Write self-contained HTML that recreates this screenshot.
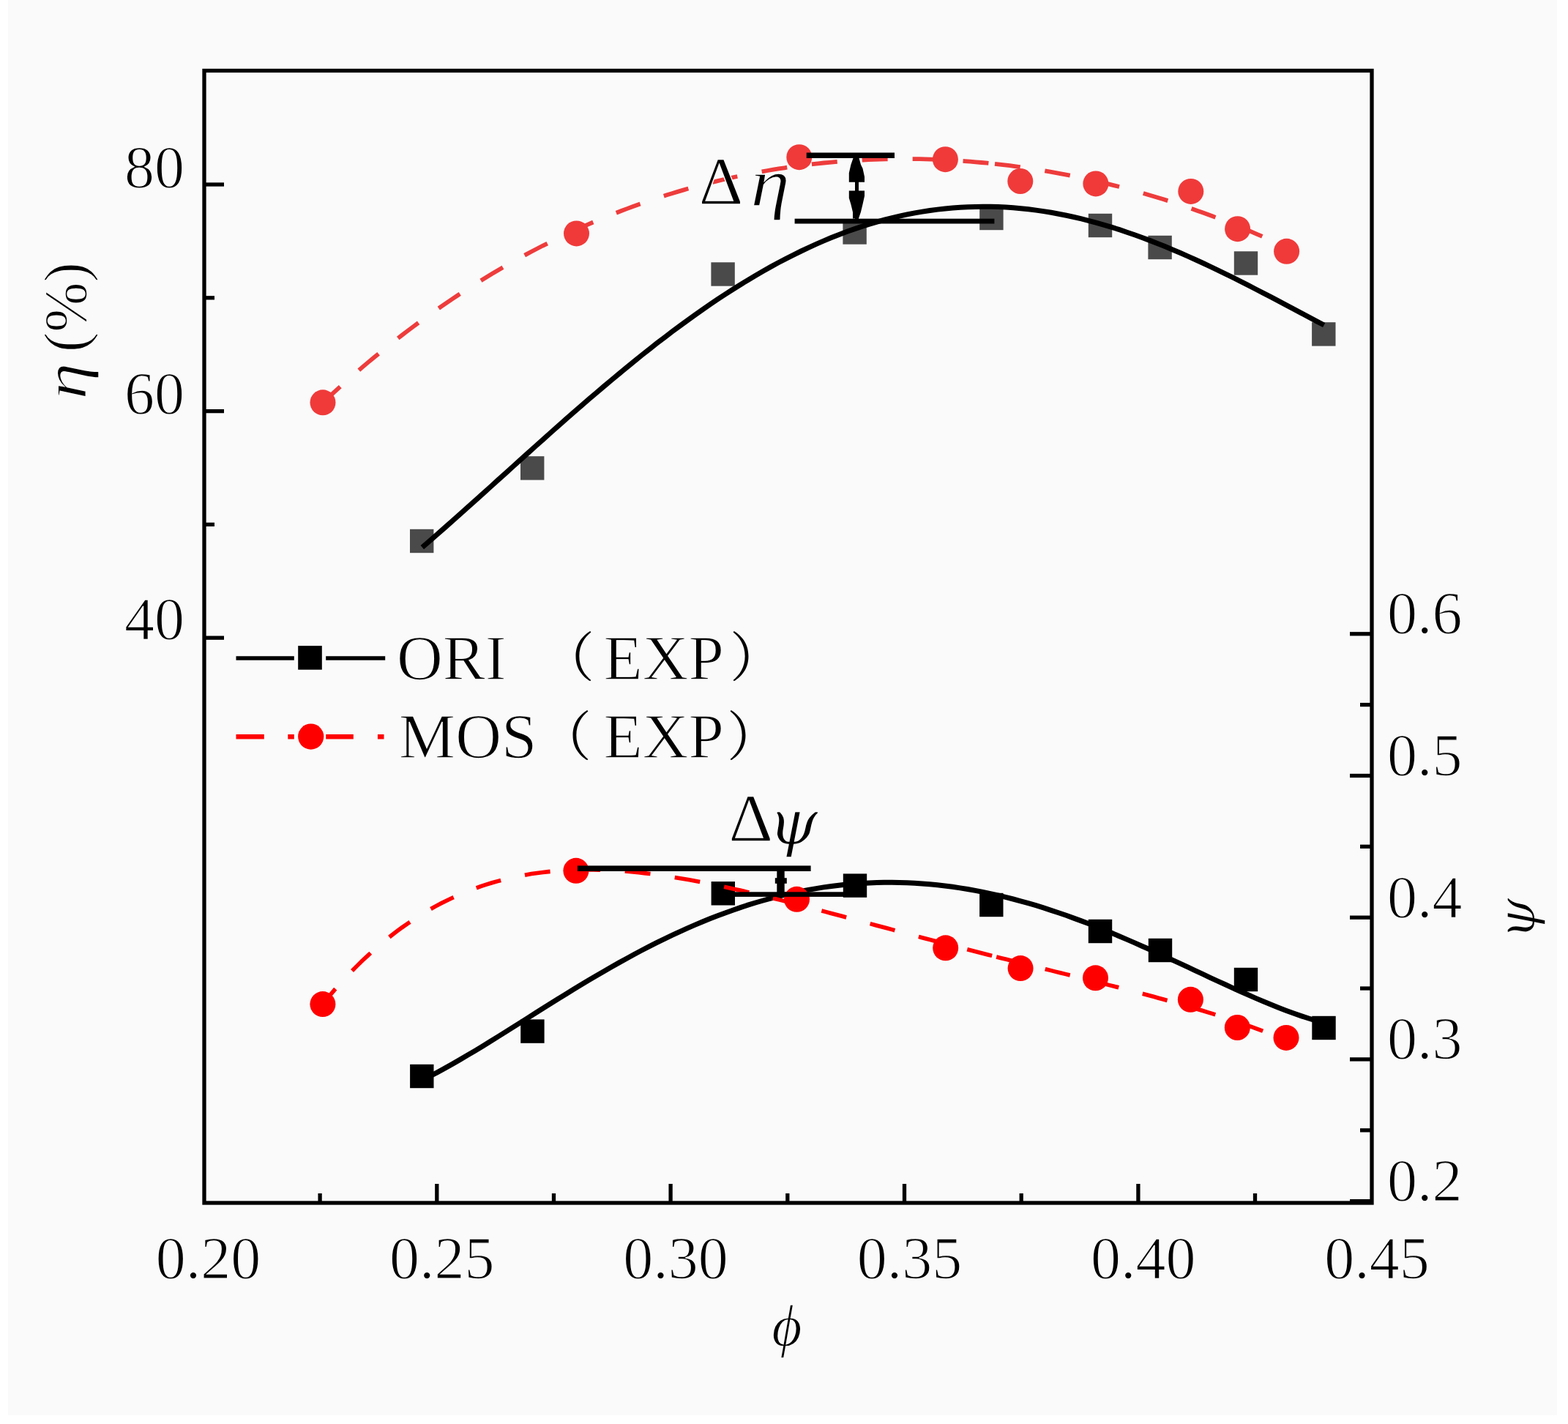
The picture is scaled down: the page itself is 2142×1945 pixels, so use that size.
<!DOCTYPE html>
<html><head><meta charset="utf-8"><style>
html,body{margin:0;padding:0;background:#fff;}
body{width:2142px;height:1945px;overflow:hidden;}
svg{display:block;}
text{font-family:"Liberation Serif","Noto Serif CJK SC",serif;fill:#000;stroke:#fafafa;stroke-width:1.4px;}
.cjk text{stroke:none;}
</style></head><body>
<svg width="2142" height="1945" viewBox="0 0 2142 1945">
<rect x="0" y="0" width="2142" height="1945" fill="#fff"/>
<rect x="11" y="0" width="2116" height="1933" fill="#fafafa"/>
<!-- curves -->
<rect x="560.0" y="722.8" width="32.4" height="32.4" fill="#4a4a4a"/>
<rect x="711.0" y="623.2" width="32.4" height="32.4" fill="#4a4a4a"/>
<rect x="971.4" y="358.3" width="32.4" height="32.4" fill="#4a4a4a"/>
<rect x="1151.4" y="301.3" width="32.4" height="32.4" fill="#4a4a4a"/>
<rect x="1338.2" y="281.8" width="32.4" height="32.4" fill="#4a4a4a"/>
<rect x="1486.8" y="291.8" width="32.4" height="32.4" fill="#4a4a4a"/>
<rect x="1568.4" y="321.8" width="32.4" height="32.4" fill="#4a4a4a"/>
<rect x="1685.8" y="343.3" width="32.4" height="32.4" fill="#4a4a4a"/>
<rect x="1792.1" y="440.2" width="32.4" height="32.4" fill="#4a4a4a"/>
<polyline points="576.8,747.6 587.2,738.6 597.5,729.6 607.9,720.5 618.2,711.3 628.6,702.1 638.9,692.9 649.3,683.6 659.6,674.3 670.0,665.0 680.3,655.6 690.7,646.3 701.0,637.0 711.4,627.6 721.7,618.3 732.1,609.0 742.4,599.8 752.8,590.5 763.1,581.4 773.5,572.2 783.8,563.2 794.2,554.1 804.5,545.2 814.9,536.3 825.3,527.5 835.6,518.8 846.0,510.2 856.3,501.7 866.7,493.3 877.0,484.9 887.4,476.7 897.7,468.6 908.1,460.7 918.4,452.8 928.8,445.1 939.1,437.6 949.5,430.1 959.8,422.8 970.2,415.7 980.5,408.7 990.9,401.9 1001.2,395.2 1011.6,388.7 1021.9,382.4 1032.3,376.2 1042.6,370.2 1053.0,364.4 1063.3,358.8 1073.7,353.3 1084.1,348.1 1094.4,343.0 1104.8,338.1 1115.1,333.4 1125.5,328.9 1135.8,324.6 1146.2,320.5 1156.5,316.6 1166.9,312.9 1177.2,309.4 1187.6,306.2 1197.9,303.1 1208.3,300.2 1218.6,297.6 1229.0,295.1 1239.3,292.9 1249.7,290.9 1260.0,289.1 1270.4,287.5 1280.7,286.1 1291.1,284.9 1301.4,284.0 1311.8,283.2 1322.2,282.7 1332.5,282.4 1342.9,282.2 1353.2,282.3 1363.6,282.6 1373.9,283.1 1384.3,283.8 1394.6,284.7 1405.0,285.8 1415.3,287.1 1425.7,288.6 1436.0,290.3 1446.4,292.2 1456.7,294.3 1467.1,296.5 1477.4,298.9 1487.8,301.6 1498.1,304.3 1508.5,307.3 1518.8,310.4 1529.2,313.7 1539.5,317.2 1549.9,320.8 1560.2,324.5 1570.6,328.4 1581.0,332.4 1591.3,336.6 1601.7,340.9 1612.0,345.3 1622.4,349.9 1632.7,354.5 1643.1,359.3 1653.4,364.1 1663.8,369.1 1674.1,374.1 1684.5,379.2 1694.8,384.4 1705.2,389.7 1715.5,395.0 1725.9,400.3 1736.2,405.7 1746.6,411.2 1756.9,416.6 1767.3,422.1 1777.6,427.6 1788.0,433.1 1798.3,438.6 1808.7,444.0" fill="none" stroke="#000" stroke-width="7"/>
<polyline points="576.5,1475.4 586.9,1470.2 597.2,1464.8 607.6,1459.1 617.9,1453.4 628.3,1447.4 638.6,1441.3 649.0,1435.2 659.3,1428.9 669.7,1422.5 680.0,1416.1 690.4,1409.6 700.7,1403.1 711.1,1396.6 721.4,1390.1 731.8,1383.5 742.1,1377.0 752.5,1370.5 762.9,1364.1 773.2,1357.7 783.6,1351.3 793.9,1345.0 804.3,1338.8 814.6,1332.7 825.0,1326.7 835.3,1320.7 845.7,1314.9 856.0,1309.2 866.4,1303.5 876.7,1298.0 887.1,1292.7 897.4,1287.4 907.8,1282.3 918.1,1277.4 928.5,1272.6 938.9,1267.9 949.2,1263.4 959.6,1259.0 969.9,1254.8 980.3,1250.8 990.6,1246.9 1001.0,1243.2 1011.3,1239.6 1021.7,1236.2 1032.0,1233.0 1042.4,1230.0 1052.7,1227.1 1063.1,1224.4 1073.4,1221.9 1083.8,1219.5 1094.1,1217.4 1104.5,1215.4 1114.9,1213.6 1125.2,1211.9 1135.6,1210.5 1145.9,1209.2 1156.3,1208.1 1166.6,1207.2 1177.0,1206.5 1187.3,1205.9 1197.7,1205.5 1208.0,1205.3 1218.4,1205.3 1228.7,1205.4 1239.1,1205.8 1249.4,1206.3 1259.8,1206.9 1270.1,1207.8 1280.5,1208.8 1290.9,1210.0 1301.2,1211.3 1311.6,1212.9 1321.9,1214.5 1332.3,1216.4 1342.6,1218.4 1353.0,1220.6 1363.3,1222.9 1373.7,1225.4 1384.0,1228.0 1394.4,1230.8 1404.7,1233.7 1415.1,1236.7 1425.4,1239.9 1435.8,1243.3 1446.1,1246.7 1456.5,1250.3 1466.9,1254.1 1477.2,1257.9 1487.6,1261.8 1497.9,1265.9 1508.3,1270.1 1518.6,1274.3 1529.0,1278.7 1539.3,1283.1 1549.7,1287.6 1560.0,1292.2 1570.4,1296.8 1580.7,1301.5 1591.1,1306.3 1601.4,1311.1 1611.8,1315.9 1622.1,1320.7 1632.5,1325.6 1642.9,1330.4 1653.2,1335.3 1663.6,1340.1 1673.9,1344.8 1684.3,1349.6 1694.6,1354.2 1705.0,1358.8 1715.3,1363.4 1725.7,1367.8 1736.0,1372.0 1746.4,1376.2 1756.7,1380.2 1767.1,1384.0 1777.4,1387.6 1787.8,1391.0 1798.1,1394.2 1808.5,1397.1" fill="none" stroke="#000" stroke-width="7"/>
<rect x="560.1" y="1453.8" width="32.4" height="32.4" fill="#000"/>
<rect x="711.2" y="1392.4" width="32.4" height="32.4" fill="#000"/>
<rect x="971.6" y="1204.1" width="32.4" height="32.4" fill="#000"/>
<rect x="1151.8" y="1193.4" width="32.4" height="32.4" fill="#000"/>
<rect x="1338.1" y="1219.8" width="32.4" height="32.4" fill="#000"/>
<rect x="1486.8" y="1255.8" width="32.4" height="32.4" fill="#000"/>
<rect x="1568.8" y="1281.8" width="32.4" height="32.4" fill="#000"/>
<rect x="1685.8" y="1321.8" width="32.4" height="32.4" fill="#000"/>
<rect x="1792.3" y="1387.8" width="32.4" height="32.4" fill="#000"/>
<g fill="none" stroke="#ee3c3c" stroke-width="5.8" stroke-dasharray="35 34"><polyline points="441.4,549.5 449.1,542.3 456.8,535.3 464.5,528.3 472.1,521.4 479.8,514.7 487.5,508.0 495.2,501.4 502.9,494.9 510.6,488.5 518.3,482.2 525.9,476.0 533.6,469.9 541.3,463.8 549.0,457.9 556.7,452.0 564.4,446.2 572.1,440.5 579.7,434.9 587.4,429.4 595.1,424.0 602.8,418.6 610.5,413.3 618.2,408.1 625.9,403.0 633.5,398.0 641.2,393.1 648.9,388.2 656.6,383.4 664.3,378.7 672.0,374.1 679.7,369.5 687.3,365.0 695.0,360.7 702.7,356.3 710.4,352.1 718.1,347.9 725.8,343.8 733.5,339.8 741.1,335.8 748.8,332.0 756.5,328.2 764.2,324.4 771.9,320.8 779.6,317.2 787.3,313.7 794.9,310.2 802.6,306.8 810.3,303.5 818.0,300.3 825.7,297.1 833.4,294.0 841.1,291.0 848.7,288.0 856.4,285.1 864.1,282.3 871.8,279.5 879.5,276.8 887.2,274.1 894.9,271.6 902.5,269.1 910.2,266.6 917.9,264.2 925.6,261.9 933.3,259.6 941.0,257.4 948.7,255.3 956.3,253.2 964.0,251.2 971.7,249.3 979.4,247.4 987.1,245.5 994.8,243.8 1002.5,242.0 1010.1,240.4 1017.8,238.8 1025.5,237.3 1033.2,235.8 1040.9,234.4 1048.6,233.0 1056.3,231.7 1063.9,230.4 1071.6,229.3 1079.3,228.1 1087.0,227.0 1094.7,226.0 1102.4,225.1 1110.1,224.2 1117.7,223.3 1125.4,222.5 1133.1,221.8 1140.8,221.1 1148.5,220.4 1156.2,219.9 1163.9,219.3 1171.5,218.9 1179.2,218.5 1186.9,218.1 1194.6,217.8 1202.3,217.5 1210.0,217.3 1217.7,217.2 1225.3,217.1 1233.0,217.1 1240.7,217.1 1248.4,217.1 1256.1,217.2 1263.8,217.4 1271.5,217.6 1279.1,217.9 1286.8,218.2 1294.5,218.6 1302.2,219.1 1309.9,219.5 1317.6,220.1 1325.3,220.7 1332.9,221.3 1340.6,222.0 1348.3,222.7 1356.0,223.5" stroke-dashoffset="3.3"/><polyline points="1359.0,223.8 1365.8,224.6 1372.5,225.4 1379.3,226.2 1386.0,227.1 1392.8,228.0 1399.5,229.0 1406.3,230.0 1413.0,231.0 1419.8,232.1 1426.6,233.2 1433.3,234.4 1440.1,235.6 1446.8,236.8 1453.6,238.1 1460.3,239.4 1467.1,240.8 1473.9,242.2 1480.6,243.6 1487.4,245.1 1494.1,246.6 1500.9,248.2 1507.6,249.8 1514.4,251.4 1521.1,253.1 1527.9,254.8 1534.7,256.6 1541.4,258.4 1548.2,260.2 1554.9,262.1 1561.7,264.0 1568.4,266.0 1575.2,268.0 1581.9,270.0 1588.7,272.1 1595.5,274.2 1602.2,276.4 1609.0,278.6 1615.7,280.9 1622.5,283.2 1629.2,285.5 1636.0,287.9 1642.7,290.3 1649.5,292.8 1656.3,295.3 1663.0,297.8 1669.8,300.4 1676.5,303.1 1683.3,305.7 1690.0,308.5 1696.8,311.2 1703.6,314.0 1710.3,316.9 1717.1,319.8 1723.8,322.7 1730.6,325.7 1737.3,328.7 1744.1,331.8 1750.8,334.9 1757.6,338.1"/></g>
<g fill="none" stroke="#ff0000" stroke-width="5.6" stroke-dasharray="35 33.6"><polyline points="440.9,1371.3 448.6,1361.9 456.3,1352.9 464.0,1344.2 471.7,1335.8 479.4,1327.7 487.1,1319.9 494.8,1312.3 502.6,1305.1 510.3,1298.1 518.0,1291.4 525.7,1285.0 533.4,1278.8 541.1,1272.8 548.8,1267.1 556.5,1261.7 564.2,1256.5 571.9,1251.5 579.6,1246.7 587.3,1242.2 595.0,1237.9 602.7,1233.8 610.4,1229.9 618.2,1226.3 625.9,1222.8 633.6,1219.5 641.3,1216.4 649.0,1213.5 656.7,1210.7 664.4,1208.2 672.1,1205.8 679.8,1203.6 687.5,1201.6 695.2,1199.7 702.9,1197.9 710.6,1196.4 718.3,1194.9 726.0,1193.6 733.8,1192.5 741.5,1191.5 749.2,1190.6 756.9,1189.9 764.6,1189.3 772.3,1188.8 780.0,1188.4 787.7,1188.1 795.4,1188.0 803.1,1187.9 810.8,1188.0 818.5,1188.1 826.2,1188.4 833.9,1188.7 841.6,1189.2 849.4,1189.7 857.1,1190.3 864.8,1191.0 872.5,1191.8 880.2,1192.6 887.9,1193.5 895.6,1194.5 903.3,1195.6 911.0,1196.7 918.7,1197.9 926.4,1199.2 934.1,1200.5 941.8,1201.8 949.5,1203.2 957.3,1204.7 965.0,1206.2 972.7,1207.8 980.4,1209.4 988.1,1211.0 995.8,1212.7 1003.5,1214.4 1011.2,1216.1 1018.9,1217.9 1026.6,1219.7 1034.3,1221.5 1042.0,1223.4 1049.7,1225.3 1057.4,1227.2 1065.1,1229.1 1072.9,1231.1 1080.6,1233.0 1088.3,1235.0 1096.0,1237.0 1103.7,1239.0 1111.4,1241.0 1119.1,1243.1 1126.8,1245.1 1134.5,1247.2 1142.2,1249.2 1149.9,1251.3 1157.6,1253.3 1165.3,1255.4 1173.0,1257.5 1180.7,1259.5 1188.5,1261.6 1196.2,1263.7 1203.9,1265.8 1211.6,1267.8 1219.3,1269.9 1227.0,1272.0 1234.7,1274.0 1242.4,1276.1 1250.1,1278.1 1257.8,1280.2 1265.5,1282.2 1273.2,1284.2 1280.9,1286.3 1288.6,1288.3 1296.3,1290.3 1304.1,1292.3 1311.8,1294.3 1319.5,1296.3 1327.2,1298.3 1334.9,1300.3 1342.6,1302.2 1350.3,1304.2 1358.0,1306.1" stroke-dashoffset="8.1"/><polyline points="1361.2,1307.0 1367.9,1308.7 1374.6,1310.3 1381.3,1312.0 1388.0,1313.7 1394.7,1315.4 1401.5,1317.1 1408.2,1318.7 1414.9,1320.4 1421.6,1322.1 1428.3,1323.8 1435.0,1325.4 1441.7,1327.1 1448.4,1328.8 1455.1,1330.4 1461.8,1332.1 1468.5,1333.8 1475.2,1335.4 1482.0,1337.1 1488.7,1338.8 1495.4,1340.5 1502.1,1342.2 1508.8,1343.9 1515.5,1345.6 1522.2,1347.3 1528.9,1349.0 1535.6,1350.7 1542.3,1352.4 1549.0,1354.2 1555.7,1356.0 1562.5,1357.7 1569.2,1359.5 1575.9,1361.3 1582.6,1363.2 1589.3,1365.0 1596.0,1366.9 1602.7,1368.7 1609.4,1370.6 1616.1,1372.6 1622.8,1374.5 1629.5,1376.5 1636.2,1378.5 1643.0,1380.5 1649.7,1382.6 1656.4,1384.7 1663.1,1386.8 1669.8,1389.0 1676.5,1391.1 1683.2,1393.4 1689.9,1395.6 1696.6,1398.0 1703.3,1400.3 1710.0,1402.7 1716.7,1405.1 1723.5,1407.6 1730.2,1410.2 1736.9,1412.8 1743.6,1415.4 1750.3,1418.1 1757.0,1420.8"/></g>
<circle cx="441.0" cy="549.8" r="17.5" fill="#f03a3a"/>
<circle cx="787.5" cy="318.9" r="17.5" fill="#f03a3a"/>
<circle cx="1091.8" cy="214.7" r="17.5" fill="#f03a3a"/>
<circle cx="1291.4" cy="217.7" r="17.5" fill="#f03a3a"/>
<circle cx="1393.8" cy="247.5" r="17.5" fill="#f03a3a"/>
<circle cx="1496.9" cy="250.9" r="17.5" fill="#f03a3a"/>
<circle cx="1626.8" cy="261.4" r="17.5" fill="#f03a3a"/>
<circle cx="1690.6" cy="312.7" r="17.5" fill="#f03a3a"/>
<circle cx="1757.6" cy="343.3" r="17.5" fill="#f03a3a"/>
<circle cx="440.9" cy="1371.6" r="17.5" fill="#ff0000"/>
<circle cx="786.9" cy="1189.3" r="17.5" fill="#ff0000"/>
<circle cx="1088.5" cy="1228.3" r="17.5" fill="#ff0000"/>
<circle cx="1291.7" cy="1294.8" r="17.5" fill="#ff0000"/>
<circle cx="1394.1" cy="1322.6" r="17.5" fill="#ff0000"/>
<circle cx="1496.5" cy="1335.8" r="17.5" fill="#ff0000"/>
<circle cx="1626.4" cy="1365.3" r="17.5" fill="#ff0000"/>
<circle cx="1690.3" cy="1403.5" r="17.5" fill="#ff0000"/>
<circle cx="1757.0" cy="1417.4" r="17.5" fill="#ff0000"/>
<!-- delta eta annotation -->
<g fill="#000" stroke="none">
<rect x="1101.7" y="208.5" width="120.3" height="7.5"/>
<rect x="1085.6" y="298.7" width="272.8" height="6.8"/>
<rect x="1168" y="216" width="5" height="83"/>
<polygon points="1165.5,216 1173.5,216 1176,225 1178.5,230 1181,241.5 1181,248.7 1159.8,248.7 1159.8,236.3 1162.4,225"/>
<polygon points="1159.8,260.5 1181,260.5 1181,267.7 1178.5,278.9 1175.9,289.7 1172.9,298.5 1165,298.5 1165,289.7 1162.4,278.9 1159.8,270.4"/>
</g>
<!-- delta psi annotation -->
<g fill="#000" stroke="none">
<rect x="788.8" y="1182.4" width="318.8" height="7.6"/>
<rect x="995" y="1218.3" width="160" height="6.6"/>
<rect x="1061.3" y="1189" width="10.4" height="30"/>
<rect x="1058.8" y="1199.2" width="16" height="7.6"/>
</g>
<!-- frame -->
<rect x="279" y="96.5" width="1595" height="1546.5" fill="none" stroke="#000" stroke-width="5.3"/>
<g stroke="#000" stroke-width="5.3">
<line x1="279" y1="252.0" x2="306" y2="252.0"/>
<line x1="279" y1="561.6" x2="306" y2="561.6"/>
<line x1="279" y1="871.2" x2="306" y2="871.2"/>
<line x1="279" y1="406.8" x2="293" y2="406.8"/>
<line x1="279" y1="716.4" x2="293" y2="716.4"/>
<line x1="1844" y1="865.8" x2="1874" y2="865.8"/>
<line x1="1844" y1="1059.5" x2="1874" y2="1059.5"/>
<line x1="1844" y1="1253.2" x2="1874" y2="1253.2"/>
<line x1="1844" y1="1446.9" x2="1874" y2="1446.9"/>
<line x1="1844" y1="1640.6" x2="1874" y2="1640.6"/>
<line x1="1858" y1="962.6" x2="1874" y2="962.6"/>
<line x1="1858" y1="1156.3" x2="1874" y2="1156.3"/>
<line x1="1858" y1="1350.0" x2="1874" y2="1350.0"/>
<line x1="1858" y1="1543.8" x2="1874" y2="1543.8"/>
<line x1="596.8" y1="1617" x2="596.8" y2="1643"/>
<line x1="916.1" y1="1617" x2="916.1" y2="1643"/>
<line x1="1235.5" y1="1617" x2="1235.5" y2="1643"/>
<line x1="1554.9" y1="1617" x2="1554.9" y2="1643"/>
<line x1="437.1" y1="1630" x2="437.1" y2="1643"/>
<line x1="756.5" y1="1630" x2="756.5" y2="1643"/>
<line x1="1075.8" y1="1630" x2="1075.8" y2="1643"/>
<line x1="1395.2" y1="1630" x2="1395.2" y2="1643"/>
<line x1="1714.5" y1="1630" x2="1714.5" y2="1643"/>
</g>
<g font-size="82">
<text x="251.9" y="256.2" text-anchor="end">80</text>
<text x="251.9" y="564.7" text-anchor="end">60</text>
<text x="251.9" y="872.5" text-anchor="end">40</text>
<text x="1895" y="865.3">0.6</text>
<text x="1895" y="1059.0">0.5</text>
<text x="1895" y="1252.7">0.4</text>
<text x="1895" y="1446.4">0.3</text>
<text x="1895" y="1640.1">0.2</text>
<text x="284.4" y="1745.5" text-anchor="middle">0.20</text>
<text x="603.7" y="1745.5" text-anchor="middle">0.25</text>
<text x="923.0" y="1745.5" text-anchor="middle">0.30</text>
<text x="1242.4" y="1745.5" text-anchor="middle">0.35</text>
<text x="1561.8" y="1745.5" text-anchor="middle">0.40</text>
<text x="1881.1" y="1745.5" text-anchor="middle">0.45</text>
</g>
<!-- axis titles -->
<text transform="translate(117.2,358.1) rotate(-90)" text-anchor="end" font-size="82">(%)</text>
<text transform="translate(117.2,520.5) rotate(-90) scale(1.24,1)" text-anchor="middle" font-size="82" font-style="italic">η</text>
<text transform="translate(2095.7,1282.7) rotate(-90)" font-size="71.6" font-style="italic" style="font-family:'DejaVu Serif',serif">ψ</text>
<text x="1075" y="1838.4" text-anchor="middle" font-size="80" font-style="italic">ϕ</text>
<!-- annotations text -->
<text x="954.8" y="278.9" font-size="94">Δ</text>
<text transform="translate(1025.3,280.9) scale(1.15,1)" font-size="94" font-style="italic">η</text>
<text x="995.6" y="1149.3" font-size="94">Δ</text>
<text x="1049.7" y="1152.6" font-size="86" font-style="italic" style="font-family:'DejaVu Serif',serif">ψ</text>
<!-- legend -->
<line x1="322.5" y1="899" x2="401.8" y2="899" stroke="#000" stroke-width="5.5"/>
<line x1="445.2" y1="899" x2="526.2" y2="899" stroke="#000" stroke-width="5.5"/>
<rect x="407.2" y="882.1" width="32.6" height="32.6" fill="#000"/>
<g stroke="#ff0000" stroke-width="6.5">
<line x1="322.5" y1="1006.3" x2="360.8" y2="1006.3"/>
<line x1="393.3" y1="1006.3" x2="401.8" y2="1006.3"/>
<line x1="445.2" y1="1006.3" x2="482.8" y2="1006.3"/>
<line x1="515.9" y1="1006.3" x2="524.5" y2="1006.3"/>
</g>
<circle cx="424.7" cy="1006.1" r="17.6" fill="#ff0000"/>
<g font-size="87">
<text x="542" y="927.7">ORI</text>
<text x="824.6" y="927.7">EXP</text>
<text x="544.8" y="1034.5">MOS</text>
<text x="824.6" y="1034.5">EXP</text>
</g>
<g class="cjk" font-size="73" style="font-family:'Liberation Serif','Noto Serif CJK SC',serif">
<text x="738.9" y="923.7">（</text>
<text x="997" y="923.7">）</text>
<text x="735.1" y="1032.4">（</text>
<text x="993.1" y="1032.4">）</text>
</g>
</svg>
</body></html>
